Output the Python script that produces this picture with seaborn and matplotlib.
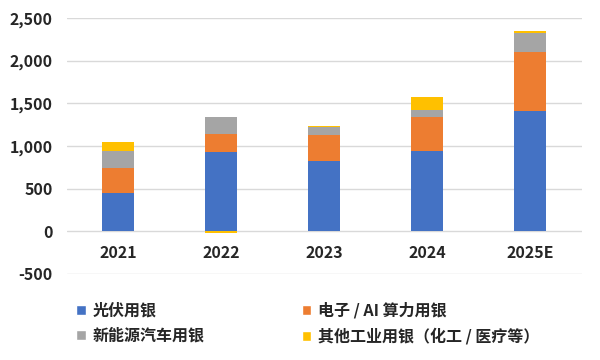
import numpy as np
import seaborn as sns
import matplotlib.pyplot as plt
from matplotlib.patches import Patch

YEARS = ['2021', '2022', '2023', '2024', '2025E']
SOLAR = [446, 930, 825, 940, 1410]
ELECTRONICS = [293, 210, 305, 400, 690]
EV = [200, 195, 90, 80, 225]
OTHER = [106, -15, 10, 150, 25]

LABELS = ['光伏用银', '电子 / AI 算力用银', '新能源汽车用银', '其他工业用银（化工 / 医疗等）']
COLORS = ['#4472C4', '#ED7D31', '#A5A5A5', '#FFC000']
TEXT = '#262626'


def plot_stacked(ax):
    series = [SOLAR, ELECTRONICS, EV, OTHER]
    pos_base = np.zeros(len(YEARS))
    neg_base = np.zeros(len(YEARS))
    for vals, color in zip(series, COLORS):
        vals = np.array(vals, dtype=float)
        bottom = np.where(vals >= 0, pos_base, neg_base)
        sns.barplot(x=YEARS, y=vals, order=YEARS, bottom=bottom, color=color,
                    width=0.31, saturation=1, ax=ax, zorder=3, linewidth=0)
        pos_base += np.where(vals >= 0, vals, 0)
        neg_base += np.where(vals < 0, vals, 0)


def main():
    sns.set_style('white')
    plt.rcParams['font.family'] = ['Noto Sans CJK SC', 'DejaVu Sans']
    fig = plt.figure(figsize=(6, 3.6), dpi=100)
    ax = fig.add_axes([0.111, 0.239, 0.859, 0.711])
    plot_stacked(ax)

    ax.set_ylim(-500, 2500)
    ax.set_xlim(-0.5, len(YEARS) - 0.5)
    ax.set_yticks(range(-500, 2501, 500))
    ax.set_yticklabels([f'{v:,}' for v in range(-500, 2501, 500)])
    ax.yaxis.grid(True, color='#D9D9D9', linewidth=1, zorder=0)
    ax.set_axisbelow(True)
    for s in ax.spines.values():
        s.set_visible(False)
    ax.spines['bottom'].set_position(('data', 0))
    ax.tick_params(axis='both', length=0, labelsize=11.5, labelcolor=TEXT)
    ax.tick_params(axis='x', pad=10)
    ax.tick_params(axis='y', pad=10)
    for lbl in ax.get_xticklabels() + ax.get_yticklabels():
        lbl.set_fontweight('bold')
    ax.set_xlabel('')
    ax.set_ylabel('')

    order = [0, 2, 1, 3]
    handles = [Patch(facecolor=COLORS[i], label=LABELS[i]) for i in order]
    fig.legend(handles=handles, loc='upper left', bbox_to_anchor=(0.103, 0.2),
               ncol=2, frameon=False, handlelength=0.6, handleheight=0.6,
               handletextpad=0.4, columnspacing=6.1, labelspacing=0.55,
               prop={'size': 11.5, 'weight': 'bold'}, labelcolor=TEXT)

    fig.savefig('out.png', dpi=100)


if __name__ == '__main__':
    main()
